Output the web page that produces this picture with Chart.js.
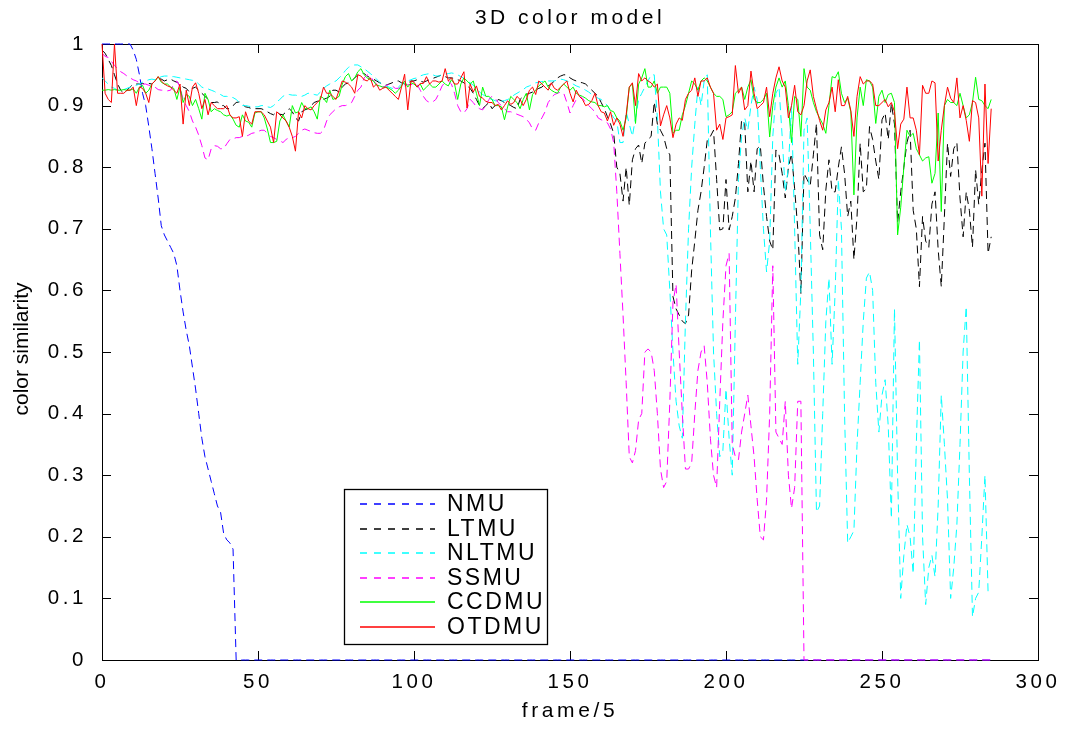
<!DOCTYPE html>
<html>
<head>
<meta charset="utf-8">
<title>3D color model</title>
<script src="https://cdn.jsdelivr.net/npm/chart.js@4.4.1/dist/chart.umd.min.js"></script>
<style>
  html, body { margin: 0; padding: 0; background: #fff; }
  #wrap { position: relative; width: 1072px; height: 729px; }
</style>
</head>
<body>
<div id="wrap"><canvas id="chart"></canvas></div>
<script>
// Axis ticks
const xTicks = [0, 50, 100, 150, 200, 250, 300];
const xTickLabels = ['0', '50', '100', '150', '200', '250', '300'];
const yTicks = [0, 0.1, 0.2, 0.3, 0.4, 0.5, 0.6, 0.7, 0.8, 0.9, 1];
const yTickLabels = ['0', '0.1', '0.2', '0.3', '0.4', '0.5', '0.6', '0.7', '0.8', '0.9', '1'];

// Colour similarity per sampled frame (frame/5 = 0 .. 285)
const nmu = [
  1, 1, 1, 1, 1, 1, 1, 1, 1, 1,
  0.99, 0.975, 0.95, 0.92, 0.9, 0.866, 0.83, 0.79, 0.75, 0.705,
  0.69, 0.68, 0.67, 0.66, 0.64, 0.6, 0.565, 0.535, 0.51, 0.475,
  0.44, 0.4, 0.36, 0.33, 0.31, 0.29, 0.27, 0.25, 0.24, 0.205,
  0.195, 0.19, 0.18, 0, 0, 0, 0, 0, 0, 0,
  0, 0, 0, 0, 0, 0, 0, 0, 0, 0, 0, 0, 0, 0, 0, 0, 0, 0, 0, 0,
  0, 0, 0, 0, 0, 0, 0, 0, 0, 0, 0, 0, 0, 0, 0, 0, 0, 0, 0, 0,
  0, 0, 0, 0, 0, 0, 0, 0, 0, 0, 0, 0, 0, 0, 0, 0, 0, 0, 0, 0,
  0, 0, 0, 0, 0, 0, 0, 0, 0, 0, 0, 0, 0, 0, 0, 0, 0, 0, 0, 0,
  0, 0, 0, 0, 0, 0, 0, 0, 0, 0, 0, 0, 0, 0, 0, 0, 0, 0, 0, 0,
  0, 0, 0, 0, 0, 0, 0, 0, 0, 0, 0, 0, 0, 0, 0, 0, 0, 0, 0, 0,
  0, 0, 0, 0, 0, 0, 0, 0, 0, 0, 0, 0, 0, 0, 0, 0, 0, 0, 0, 0,
  0, 0, 0, 0, 0, 0, 0, 0, 0, 0, 0, 0, 0, 0, 0, 0, 0, 0, 0, 0,
  0, 0, 0, 0, 0, 0, 0, 0, 0, 0, 0, 0, 0, 0, 0, 0, 0, 0, 0, 0,
  0, 0, 0, 0, 0, 0, 0, 0, 0, 0, 0, 0, 0, 0, 0, 0, 0, 0, 0, 0,
  0, 0, 0, 0, 0, 0, 0, 0, 0, 0, 0, 0, 0, 0, 0, 0, 0, 0, 0, 0,
  0, 0, 0, 0, 0, 0, 0, 0, 0, 0,
  0, 0, 0, 0, 0, 0
];

const ltmu = [
  0.99, 0.985, 0.975, 0.965, 0.95, 0.935, 0.925, 0.92, 0.925, 0.93,
  0.935, 0.935, 0.935, 0.936, 0.935, 0.936, 0.935, 0.94, 0.944, 0.943,
  0.94, 0.942, 0.943, 0.94, 0.938, 0.935, 0.93, 0.928, 0.922, 0.928,
  0.93, 0.925, 0.92, 0.915, 0.91, 0.905, 0.905, 0.906, 0.9, 0.9,
  0.895, 0.895, 0.9, 0.905, 0.906, 0.902, 0.898, 0.897, 0.895, 0.895,
  0.895, 0.895, 0.893, 0.89, 0.887, 0.885, 0.89, 0.886, 0.885, 0.89,
  0.895, 0.89, 0.88, 0.875, 0.89, 0.893, 0.895, 0.9, 0.905, 0.907,
  0.908, 0.91, 0.912, 0.915, 0.925, 0.925, 0.922, 0.93, 0.935, 0.937,
  0.94, 0.945, 0.95, 0.953, 0.952, 0.948, 0.945, 0.943, 0.94, 0.937,
  0.935, 0.933, 0.935, 0.937, 0.94, 0.94, 0.937, 0.935, 0.936, 0.94,
  0.94, 0.942, 0.94, 0.938, 0.94, 0.942, 0.944, 0.946, 0.948, 0.95,
  0.947, 0.945, 0.945, 0.944, 0.942, 0.94, 0.937, 0.932, 0.928, 0.92,
  0.91, 0.9, 0.895, 0.9, 0.905, 0.895, 0.9, 0.91, 0.908, 0.905,
  0.903, 0.9, 0.897, 0.895, 0.91, 0.915, 0.918, 0.92, 0.922, 0.925,
  0.928, 0.93, 0.935, 0.932, 0.935, 0.94, 0.945, 0.948, 0.95, 0.95,
  0.945, 0.942, 0.94, 0.938, 0.937, 0.935, 0.93, 0.925, 0.92, 0.915,
  0.905, 0.895, 0.882, 0.87, 0.855, 0.8, 0.79, 0.745, 0.8, 0.738,
  0.812, 0.83, 0.836, 0.806, 0.839, 0.845, 0.85, 0.906, 0.87, 0.86,
  0.85, 0.83, 0.82, 0.59, 0.57, 0.56, 0.55, 0.546, 0.56, 0.633,
  0.68, 0.73, 0.76, 0.8, 0.844, 0.85, 0.86, 0.78, 0.698, 0.7,
  0.78, 0.698, 0.72, 0.75, 0.806, 0.877, 0.871, 0.76, 0.81, 0.76,
  0.83, 0.835, 0.77, 0.72, 0.68, 0.666, 0.828, 0.82, 0.79, 0.75,
  0.8, 0.822, 0.765, 0.7, 0.595, 0.79, 0.78, 0.77, 0.82, 0.871,
  0.69, 0.666, 0.763, 0.812, 0.76, 0.76, 0.8, 0.833, 0.79, 0.72,
  0.745, 0.65, 0.72, 0.839, 0.76, 0.765, 0.866, 0.845, 0.81, 0.78,
  0.877, 0.888, 0.845, 0.904, 0.87, 0.71, 0.76, 0.8, 0.84, 0.86,
  0.73, 0.7, 0.606, 0.72, 0.68, 0.67, 0.74, 0.76, 0.666, 0.606,
  0.72, 0.839, 0.785, 0.83, 0.84, 0.75, 0.687, 0.76, 0.73, 0.67,
  0.796, 0.74, 0.795, 0.839, 0.66, 0.687
];

const nltmu = [
  0.945, 0.94, 0.935, 0.93, 0.928, 0.925, 0.925, 0.926, 0.928, 0.93,
  0.932, 0.933, 0.935, 0.938, 0.94, 0.942, 0.943, 0.942, 0.944, 0.947,
  0.948, 0.948, 0.947, 0.947, 0.946, 0.945, 0.944, 0.943, 0.942, 0.941,
  0.94, 0.935, 0.93, 0.928, 0.927, 0.925, 0.923, 0.92, 0.918, 0.915,
  0.915, 0.914, 0.913, 0.91, 0.905, 0.9, 0.9, 0.899, 0.898, 0.898,
  0.898, 0.9, 0.9, 0.898, 0.897, 0.9, 0.906, 0.91, 0.915, 0.918,
  0.918, 0.917, 0.917, 0.916, 0.915, 0.917, 0.92, 0.92, 0.918, 0.917,
  0.922, 0.928, 0.932, 0.935, 0.938, 0.94, 0.945, 0.95, 0.957, 0.962,
  0.965, 0.966, 0.966, 0.963, 0.96, 0.956, 0.952, 0.948, 0.943, 0.938,
  0.933, 0.932, 0.93, 0.928, 0.928, 0.93, 0.935, 0.937, 0.94, 0.942,
  0.944, 0.945, 0.948, 0.95, 0.951, 0.952, 0.95, 0.948, 0.948, 0.95,
  0.951, 0.952, 0.953, 0.952, 0.95, 0.947, 0.944, 0.94, 0.937, 0.933,
  0.928, 0.922, 0.918, 0.915, 0.912, 0.91, 0.908, 0.906, 0.907, 0.908,
  0.91, 0.912, 0.917, 0.92, 0.923, 0.926, 0.93, 0.932, 0.935, 0.937,
  0.938, 0.939, 0.94, 0.94, 0.94, 0.94, 0.942, 0.943, 0.942, 0.94,
  0.938, 0.935, 0.932, 0.93, 0.928, 0.925, 0.922, 0.918, 0.915, 0.912,
  0.91, 0.905, 0.9, 0.89, 0.88, 0.875, 0.84, 0.84, 0.89, 0.87,
  0.85, 0.88, 0.91, 0.92, 0.93, 0.94, 0.95, 0.95, 0.88, 0.76,
  0.7, 0.69, 0.6, 0.5, 0.42, 0.38, 0.36, 0.55, 0.7, 0.8,
  0.87, 0.93, 0.9, 0.94, 0.95, 0.7, 0.5, 0.4, 0.33, 0.34,
  0.44, 0.36, 0.3, 0.55, 0.78, 0.85, 0.88, 0.86, 0.9, 0.93,
  0.91, 0.8, 0.7, 0.63, 0.68, 0.85, 0.92, 0.93, 0.85, 0.76,
  0.8, 0.9, 0.7, 0.48, 0.6, 0.86, 0.88, 0.7, 0.5, 0.24,
  0.25, 0.4, 0.55, 0.62, 0.48, 0.6, 0.78, 0.7, 0.4, 0.19,
  0.2, 0.21, 0.35, 0.45, 0.55, 0.62, 0.63, 0.6, 0.45, 0.37,
  0.43, 0.455, 0.38, 0.23, 0.57, 0.3, 0.1, 0.17, 0.22, 0.2,
  0.14, 0.35, 0.52, 0.2, 0.09, 0.15, 0.17, 0.135, 0.25, 0.43,
  0.35, 0.26, 0.1, 0.15, 0.22, 0.35, 0.5, 0.574, 0.3, 0.07,
  0.1, 0.11, 0.2, 0.3, 0.11, 0.11
];

const ssmu = [
  0.985, 0.98, 0.978, 0.972, 0.965, 0.96, 0.955, 0.952, 0.948, 0.945,
  0.942, 0.94, 0.937, 0.935, 0.935, 0.933, 0.932, 0.93, 0.926, 0.925,
  0.925, 0.924, 0.925, 0.935, 0.94, 0.93, 0.91, 0.9, 0.89, 0.875,
  0.865, 0.852, 0.835, 0.815, 0.812, 0.83, 0.835, 0.834, 0.83, 0.83,
  0.838, 0.845, 0.846, 0.848, 0.848, 0.85, 0.85, 0.852, 0.855, 0.856,
  0.858, 0.86, 0.86, 0.855, 0.85, 0.848, 0.845, 0.843, 0.84, 0.845,
  0.848, 0.848, 0.85, 0.855, 0.86, 0.862, 0.86, 0.858, 0.856, 0.855,
  0.855, 0.86, 0.875, 0.885, 0.89, 0.895, 0.898, 0.9, 0.9, 0.902,
  0.905, 0.915, 0.925, 0.93, 0.945, 0.95, 0.948, 0.94, 0.935, 0.932,
  0.93, 0.932, 0.935, 0.932, 0.928, 0.928, 0.93, 0.932, 0.934, 0.934,
  0.935, 0.934, 0.925, 0.915, 0.908, 0.905, 0.906, 0.91, 0.92, 0.932,
  0.938, 0.94, 0.935, 0.92, 0.9, 0.89, 0.888, 0.895, 0.91, 0.905,
  0.898, 0.895, 0.893, 0.9, 0.91, 0.915, 0.912, 0.905, 0.9, 0.895,
  0.89, 0.89, 0.888, 0.886, 0.884, 0.882, 0.878, 0.872, 0.862, 0.86,
  0.872, 0.88, 0.89, 0.905, 0.912, 0.918, 0.92, 0.922, 0.92, 0.905,
  0.888, 0.9, 0.91, 0.915, 0.912, 0.905, 0.9, 0.895, 0.89, 0.88,
  0.877, 0.875, 0.872, 0.862, 0.84, 0.76, 0.66, 0.56, 0.45, 0.33,
  0.32, 0.34, 0.39, 0.4, 0.5, 0.505, 0.5, 0.47, 0.4, 0.31,
  0.28, 0.29, 0.42, 0.58, 0.61, 0.5, 0.4, 0.31, 0.31, 0.32,
  0.4, 0.47, 0.5, 0.51, 0.45, 0.36, 0.3, 0.28, 0.42, 0.55,
  0.64, 0.66, 0.35, 0.33, 0.325, 0.37, 0.4, 0.43, 0.38, 0.33,
  0.26, 0.2, 0.195, 0.26, 0.4, 0.64, 0.37, 0.36, 0.35, 0.42,
  0.3, 0.246, 0.28, 0.42, 0.42, 0, 0, 0, 0, 0,
  0, 0, 0, 0, 0, 0, 0, 0, 0, 0, 0, 0, 0, 0, 0, 0, 0, 0, 0, 0,
  0, 0, 0, 0, 0, 0, 0, 0, 0, 0, 0, 0, 0, 0, 0, 0, 0, 0, 0, 0,
  0, 0, 0, 0, 0, 0, 0, 0, 0, 0,
  0, 0, 0, 0, 0, 0
];

const ccdmu = [
  0.925, 0.925, 0.926, 0.925, 0.926, 0.925, 0.925, 0.926, 0.925, 0.925,
  0.927, 0.92, 0.93, 0.933, 0.92, 0.925, 0.935, 0.94, 0.947, 0.938,
  0.935, 0.935, 0.93, 0.928, 0.91, 0.93, 0.905, 0.918, 0.915, 0.9,
  0.91, 0.895, 0.878, 0.92, 0.91, 0.89, 0.895, 0.892, 0.89, 0.885,
  0.883, 0.885, 0.878, 0.868, 0.865, 0.885, 0.875, 0.873, 0.865, 0.888,
  0.89, 0.89, 0.88, 0.862, 0.84, 0.84, 0.842, 0.875, 0.885, 0.875,
  0.865, 0.9, 0.888, 0.89, 0.905, 0.895, 0.895, 0.898, 0.89, 0.878,
  0.915, 0.912, 0.905, 0.925, 0.91, 0.912, 0.915, 0.935, 0.947, 0.952,
  0.94, 0.945, 0.955, 0.96, 0.95, 0.945, 0.942, 0.94, 0.933, 0.932,
  0.93, 0.93, 0.928, 0.925, 0.92, 0.925, 0.932, 0.94, 0.93, 0.937,
  0.935, 0.93, 0.935, 0.925, 0.93, 0.935, 0.93, 0.93, 0.935, 0.94,
  0.935, 0.932, 0.942, 0.935, 0.91, 0.935, 0.945, 0.94, 0.935, 0.94,
  0.92, 0.9, 0.93, 0.915, 0.915, 0.91, 0.9, 0.9, 0.898, 0.877,
  0.898, 0.915, 0.91, 0.905, 0.895, 0.91, 0.92, 0.893, 0.918, 0.925,
  0.932, 0.936, 0.94, 0.93, 0.925, 0.922, 0.92, 0.93, 0.935, 0.93,
  0.925, 0.93, 0.92, 0.917, 0.915, 0.912, 0.908, 0.906, 0.905, 0.9,
  0.9, 0.898, 0.9, 0.892, 0.89, 0.88, 0.875, 0.86, 0.88, 0.93,
  0.935, 0.871, 0.935, 0.945, 0.96, 0.93, 0.93, 0.94, 0.92, 0.93,
  0.93, 0.93, 0.92, 0.855, 0.86, 0.86, 0.885, 0.9, 0.92, 0.94,
  0.935, 0.925, 0.94, 0.945, 0.94, 0.93, 0.92, 0.915, 0.915, 0.91,
  0.882, 0.885, 0.89, 0.92, 0.925, 0.93, 0.91, 0.93, 0.942, 0.91,
  0.905, 0.905, 0.91, 0.92, 0.849, 0.9, 0.93, 0.945, 0.93, 0.94,
  0.9, 0.84, 0.915, 0.91, 0.85, 0.96, 0.93, 0.925, 0.905, 0.89,
  0.88, 0.87, 0.855, 0.9, 0.947, 0.945, 0.955, 0.92, 0.905, 0.912,
  0.89, 0.755, 0.88, 0.93, 0.9, 0.942, 0.94, 0.93, 0.871, 0.915,
  0.925, 0.905, 0.918, 0.92, 0.905, 0.69, 0.735, 0.8, 0.86, 0.85,
  0.855, 0.83, 0.82, 0.81, 0.815, 0.817, 0.774, 0.79, 0.888, 0.728,
  0.9, 0.91, 0.905, 0.905, 0.9, 0.92, 0.9, 0.88, 0.885, 0.905,
  0.946, 0.91, 0.908, 0.9, 0.895, 0.91
];

const otdmu = [
  1.0, 0.92, 0.91, 0.905, 1.0, 0.92, 0.92, 0.92, 0.925, 0.925,
  0.93, 0.9, 0.93, 0.928, 0.92, 0.905, 0.935, 0.94, 0.947, 0.94,
  0.935, 0.932, 0.93, 0.925, 0.92, 0.935, 0.87, 0.925, 0.9, 0.93,
  0.937, 0.92, 0.895, 0.91, 0.885, 0.905, 0.9, 0.895, 0.895, 0.895,
  0.9, 0.885, 0.88, 0.88, 0.882, 0.85, 0.89, 0.875, 0.87, 0.89,
  0.89, 0.89, 0.885, 0.875, 0.865, 0.84, 0.89, 0.885, 0.88, 0.875,
  0.865, 0.85, 0.826, 0.89, 0.88, 0.9, 0.895, 0.893, 0.9, 0.905,
  0.91, 0.93, 0.92, 0.92, 0.915, 0.91, 0.925, 0.94, 0.938, 0.935,
  0.93, 0.92, 0.95, 0.948, 0.942, 0.94, 0.945, 0.93, 0.935, 0.925,
  0.928, 0.93, 0.925, 0.92, 0.915, 0.91, 0.93, 0.951, 0.893, 0.94,
  0.938, 0.93, 0.936, 0.936, 0.947, 0.935, 0.94, 0.94, 0.938, 0.94,
  0.96, 0.94, 0.945, 0.935, 0.935, 0.945, 0.955, 0.896, 0.935, 0.922,
  0.932, 0.915, 0.912, 0.907, 0.905, 0.905, 0.9, 0.902, 0.893, 0.9,
  0.908, 0.902, 0.905, 0.915, 0.91, 0.9, 0.91, 0.925, 0.93, 0.918,
  0.94, 0.935, 0.93, 0.925, 0.937, 0.928, 0.925, 0.93, 0.935, 0.94,
  0.92, 0.906, 0.925, 0.915, 0.91, 0.9, 0.902, 0.908, 0.92, 0.9,
  0.89, 0.888, 0.875, 0.89, 0.868, 0.88, 0.87, 0.85, 0.885, 0.93,
  0.937, 0.9, 0.952, 0.94, 0.945, 0.94, 0.937, 0.93, 0.935, 0.867,
  0.885, 0.9, 0.88, 0.848, 0.87, 0.88, 0.876, 0.91, 0.92, 0.925,
  0.945, 0.915, 0.94, 0.94, 0.945, 0.93, 0.92, 0.86, 0.87, 0.845,
  0.88, 0.882, 0.885, 0.965, 0.92, 0.93, 0.893, 0.9, 0.956, 0.92,
  0.895, 0.9, 0.905, 0.93, 0.882, 0.92, 0.945, 0.963, 0.94, 0.93,
  0.88, 0.9, 0.933, 0.89, 0.885, 0.9, 0.94, 0.958, 0.915, 0.895,
  0.876, 0.86, 0.893, 0.905, 0.93, 0.89, 0.942, 0.9, 0.9, 0.915,
  0.892, 0.85, 0.915, 0.947, 0.935, 0.94, 0.94, 0.935, 0.9, 0.9,
  0.905, 0.91, 0.898, 0.905, 0.89, 0.83, 0.87, 0.878, 0.93, 0.88,
  0.88, 0.86, 0.82, 0.933, 0.92, 0.92, 0.94, 0.937, 0.81, 0.86,
  0.9, 0.93, 0.912, 0.905, 0.945, 0.88, 0.9, 0.876, 0.842, 0.908,
  0.905, 0.88, 0.753, 0.935, 0.806, 0.895
];

const FONT = "'Liberation Sans', Arial, Helvetica, sans-serif";
const W = 1072, H = 729;
// plot box in canvas pixels
const AREA = { left: 102, top: 44, right: 1038, bottom: 660 };
const TICK = 9;

const series = [
  { label: 'NMU',   values: nmu,   color: '#0000ff', dash: [8, 5] },
  { label: 'LTMU',  values: ltmu,  color: '#000000', dash: [8, 5] },
  { label: 'NLTMU', values: nltmu, color: '#00ffff', dash: [8, 5] },
  { label: 'SSMU',  values: ssmu,  color: '#ff00ff', dash: [8, 5] },
  { label: 'CCDMU', values: ccdmu, color: '#00ff00', dash: [] },
  { label: 'OTDMU', values: otdmu, color: '#ff0000', dash: [] },
];

const datasets = series.map((s, i) => ({
  label: s.label,
  data: s.values.map((v, k) => ({ x: k, y: v })),
  borderColor: s.color,
  borderWidth: 1,
  borderDash: s.dash,
  pointRadius: 0,
  tension: 0,
  fill: false,
  clip: 2,
  // later series sit on top
  order: series.length - 1 - i,
}));

// Boxed axes with inward ticks on all four sides, drawn under the lines.
const boxedAxes = {
  id: 'boxedAxes',
  beforeDraw(chart) {
    chart.ctx.letterSpacing = '3.6px';
  },
  beforeDatasetsDraw(chart) {
    const { ctx, chartArea: a, scales: { x, y } } = chart;
    ctx.save();
    ctx.strokeStyle = '#000';
    ctx.lineWidth = 1;
    ctx.strokeRect(a.left + 0.5, a.top + 0.5, a.right - a.left, a.bottom - a.top);
    ctx.beginPath();
    x.ticks.forEach((t) => {
      const px = Math.round(x.getPixelForValue(t.value)) + 0.5;
      ctx.moveTo(px, a.bottom); ctx.lineTo(px, a.bottom - TICK);
      ctx.moveTo(px, a.top); ctx.lineTo(px, a.top + TICK);
    });
    y.ticks.forEach((t) => {
      const py = Math.round(y.getPixelForValue(t.value)) + 0.5;
      ctx.moveTo(a.left, py); ctx.lineTo(a.left + TICK, py);
      ctx.moveTo(a.right, py); ctx.lineTo(a.right - TICK, py);
    });
    ctx.stroke();
    ctx.restore();
  },
  afterDraw(chart) {
    const ctx = chart.ctx;
    const a = chart.chartArea;

    // title, centred over the plot box
    ctx.save();
    ctx.letterSpacing = '3.5px';
    ctx.font = '21px ' + FONT;
    ctx.fillStyle = '#000';
    ctx.textAlign = 'center';
    ctx.textBaseline = 'middle';
    ctx.fillText('3D color model', (a.left + a.right) / 2, 18);
    ctx.restore();

    // y axis title
    ctx.save();
    ctx.letterSpacing = '0px';
    ctx.translate(22, (a.top + a.bottom) / 2 - 3);
    ctx.rotate(-Math.PI / 2);
    ctx.font = '21px ' + FONT;
    ctx.fillStyle = '#000';
    ctx.textAlign = 'center';
    ctx.textBaseline = 'middle';
    ctx.fillText('color similarity', 0, 0);
    ctx.restore();

    // legend box
    const box = { x: 344, y: 489, w: 203, h: 155 };
    const rowH = 24.6;
    ctx.save();
    ctx.fillStyle = '#fff';
    ctx.fillRect(box.x, box.y, box.w, box.h);
    ctx.strokeStyle = '#000';
    ctx.lineWidth = 1.3;
    ctx.strokeRect(box.x + 0.5, box.y + 0.5, box.w, box.h);
    ctx.font = '23px ' + FONT;
    ctx.letterSpacing = '2.5px';
    ctx.textAlign = 'left';
    ctx.textBaseline = 'middle';
    chart.data.datasets.forEach((ds, i) => {
      const cy = Math.round(box.y + 15 + i * rowH);
      ctx.beginPath();
      ctx.strokeStyle = ds.borderColor;
      ctx.lineWidth = 1.4;
      ctx.setLineDash(ds.borderDash && ds.borderDash.length ? [7, 7] : []);
      ctx.moveTo(360, cy);
      ctx.lineTo(435, cy);
      ctx.stroke();
      ctx.setLineDash([]);
      ctx.fillStyle = '#000';
      ctx.fillText(ds.label, 447, cy + 1);
    });
    ctx.restore();
  },
};

new Chart(document.getElementById('chart'), {
  type: 'line',
  data: { datasets },
  options: {
    responsive: true,
    maintainAspectRatio: false,
    devicePixelRatio: 1,
    animation: false,
    events: [],
    layout: { padding: { left: 0, top: AREA.top, right: W - AREA.right, bottom: 0 } },
    plugins: {
      legend: { display: false },
      tooltip: { enabled: false },
      title: { display: false },
    },
    scales: {
      x: {
        type: 'linear',
        min: 0,
        max: 300,
        afterBuildTicks: (s) => { s.ticks = xTicks.map((v) => ({ value: v })); },
        afterFit: (s) => { s.height = H - AREA.bottom; },
        grid: { display: false },
        border: { display: false },
        ticks: {
          autoSkip: false,
          maxRotation: 0,
          minRotation: 0,
          padding: 2,
          color: '#000',
          font: { family: FONT, size: 20.5 },
          callback: (v, i) => xTickLabels[i],
        },
        title: {
          display: true,
          text: 'frame/5',
          color: '#000',
          font: { family: FONT, size: 21 },
          padding: { top: 0, bottom: 5 },
        },
      },
      y: {
        type: 'linear',
        min: 0,
        max: 1,
        afterBuildTicks: (s) => { s.ticks = yTicks.map((v) => ({ value: v })); },
        afterFit: (s) => { s.width = AREA.left; },
        grid: { display: false },
        border: { display: false },
        ticks: {
          padding: 7,
          color: '#000',
          font: { family: FONT, size: 20.5 },
          callback: (v, i) => yTickLabels[i],
        },
      },
    },
  },
  plugins: [boxedAxes],
});
</script>
</body>
</html>
